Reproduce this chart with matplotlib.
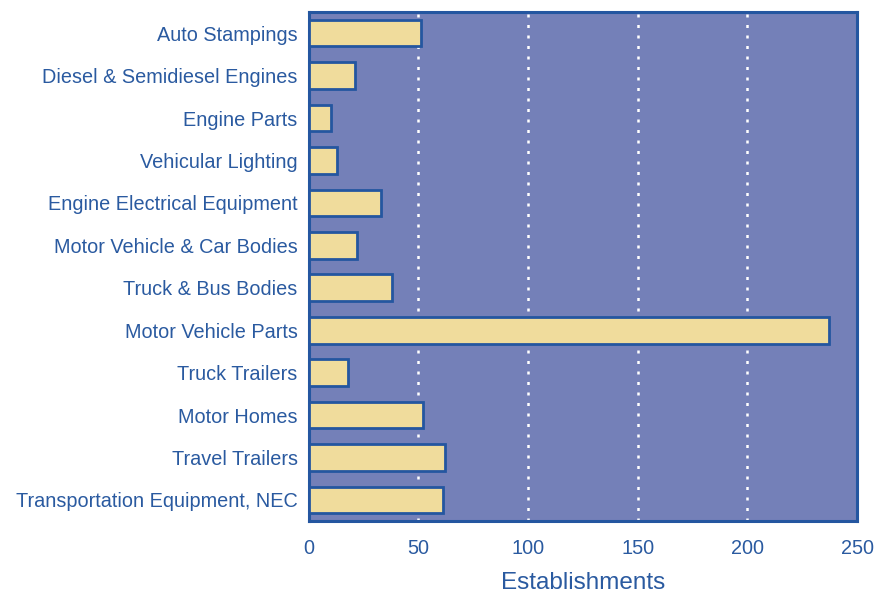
import matplotlib
matplotlib.use('Agg')
import matplotlib.pyplot as plt

categories = [
    "Auto Stampings",
    "Diesel & Semidiesel Engines",
    "Engine Parts",
    "Vehicular Lighting",
    "Engine Electrical Equipment",
    "Motor Vehicle & Car Bodies",
    "Truck & Bus Bodies",
    "Motor Vehicle Parts",
    "Truck Trailers",
    "Motor Homes",
    "Travel Trailers",
    "Transportation Equipment, NEC",
]
establishments = [51, 21, 10, 13, 33, 22, 38, 237, 18, 52, 62, 61]
x_ticks = [0, 50, 100, 150, 200, 250]

blue = "#2456a0"
text_blue = "#2a5aa0"
bg = "#7480b8"
bar_fill = "#f0dc9c"

plt.rcParams['font.family'] = ['Liberation Sans', 'DejaVu Sans']

fig = plt.figure(figsize=(8.9, 5.95), dpi=100)
ax = fig.add_axes([0.347, 0.124, 0.616, 0.856])
ax.set_facecolor(bg)

ypos = list(range(len(categories)))
ax.barh(ypos, establishments, height=0.63, color=bar_fill,
        edgecolor=blue, linewidth=2.0, zorder=3)

for gx in x_ticks[1:-1]:
    ax.axvline(gx, color="white", linestyle=(0, (1.2, 3)), linewidth=1.8, zorder=2)

ax.set_xlim(0, 250)
ax.set_ylim(len(categories) - 0.5, -0.5)
ax.set_yticks(ypos)
ax.set_yticklabels(categories, fontsize=14.3, color=text_blue)
ax.set_xticks(x_ticks)
ax.set_xticklabels([str(t) for t in x_ticks], fontsize=14.3, color=text_blue)
ax.tick_params(length=0)
ax.tick_params(axis='x', pad=13)
ax.tick_params(axis='y', pad=8)
ax.set_xlabel("Establishments", fontsize=17.5, color=text_blue, labelpad=10)

for s in ax.spines.values():
    s.set_color(blue)
    s.set_linewidth(2.2)

plt.savefig("out.png", dpi=100)
plt.close()
